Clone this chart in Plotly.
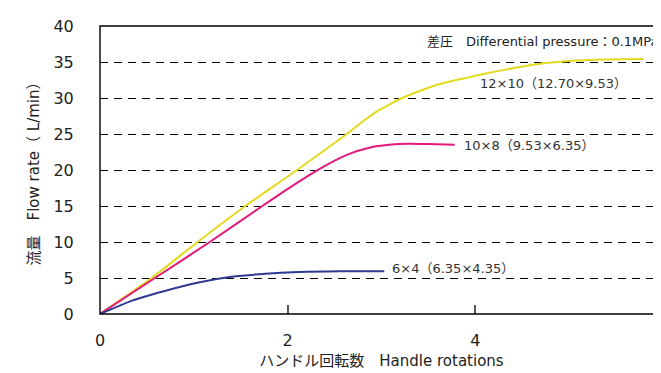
import plotly.graph_objects as go

# Handle rotations vs flow rate
x_12x10 = [0, 0.55, 1.04, 1.55, 2.10, 2.62, 2.90, 3.22, 3.61, 3.94, 4.15, 4.65, 5.0, 5.4, 5.79]
y_12x10 = [0, 5, 10, 15, 20, 24.9, 27.7, 30.0, 31.9, 32.9, 33.5, 34.7, 35.15, 35.35, 35.4]

x_10x8 = [0, 0.585, 1.17, 1.73, 2.05, 2.36, 2.65, 2.87, 3.08, 3.29, 3.5, 3.78]
y_10x8 = [0, 5, 10, 15, 17.8, 20.3, 22.2, 23.1, 23.5, 23.65, 23.6, 23.5]

x_6x4 = [0, 0.335, 0.69, 1.05, 1.40, 1.76, 2.12, 2.55, 3.03]
y_6x4 = [0, 1.83, 3.2, 4.37, 5.16, 5.6, 5.85, 5.95, 5.95]

series_names = ["12×10（12.70×9.53）", "10×8（9.53×6.35）", "6×4（6.35×4.35）"]
label_pos = [(4.03, 32.0), (3.86, 23.4), (3.09, 6.3)]
colors = ["#E2DA1E", "#E3197B", "#2F3A8F"]

x_ticks = [0, 2, 4, 6]
y_ticks = [0, 5, 10, 15, 20, 25, 30, 35, 40]

font_family = "DejaVu Sans, Noto Sans CJK JP, sans-serif"

fig = go.Figure()
for xs, ys, c, name in zip([x_12x10, x_10x8, x_6x4], [y_12x10, y_10x8, y_6x4], colors, series_names):
    fig.add_trace(go.Scatter(x=xs, y=ys, mode="lines", name=name,
                             line=dict(color=c, width=2, shape="spline", smoothing=0.6),
                             showlegend=False))

# invisible trace on the secondary x axis so it renders its inside ticks
fig.add_trace(go.Scatter(x=[x_ticks[0], x_ticks[-1]], y=[y_ticks[0], y_ticks[0]], xaxis="x2",
                         mode="lines", line=dict(width=0), hoverinfo="skip", showlegend=False))

for (lx, ly), name in zip(label_pos, series_names):
    fig.add_annotation(x=lx, y=ly, xref="x", yref="y", text=name, showarrow=False,
                       xanchor="left", yanchor="middle",
                       font=dict(family=font_family, size=13, color="#333333"))

fig.add_annotation(x=5.98, y=37.9, xref="x", yref="y",
                   text="差圧　Differential pressure：0.1MPa", showarrow=False,
                   xanchor="right", yanchor="middle",
                   font=dict(family=font_family, size=13, color="#222222"))

# plot frame
fig.add_shape(type="rect", xref="paper", yref="paper", x0=0, y0=0, x1=1, y1=1,
              line=dict(color="black", width=1.4), layer="above")

fig.update_layout(
    width=661, height=373,
    margin=dict(l=92, r=6, t=18, b=67),
    paper_bgcolor="white", plot_bgcolor="white",
    font=dict(family=font_family, color="#222222"),
    xaxis2=dict(overlaying="x", side="bottom", range=[0, 6], tickvals=x_ticks,
                showticklabels=False, ticks="inside", ticklen=9, tickcolor="#555555",
                tickwidth=1.5, showgrid=False, zeroline=False, showline=False,
                automargin=False),
)
fig.update_xaxes(
    selector=dict(anchor="y"),
)
fig.layout.xaxis.update(
    range=[0, 6], tickvals=x_ticks, ticktext=[str(v) for v in x_ticks],
    showgrid=False, zeroline=False, automargin=False,
    showline=False,
    ticks="outside", ticklen=12, tickcolor="rgba(0,0,0,0)",
    tickfont=dict(size=16, color="#222222"),
    title=dict(text="ハンドル回転数　Handle rotations", font=dict(size=15, color="#222222"), standoff=6),
)
fig.layout.yaxis.update(
    range=[0, 40], tickvals=y_ticks, ticktext=[str(v) for v in y_ticks],
    showgrid=True, gridcolor="black", gridwidth=1, griddash="8px,6px",
    zeroline=False, automargin=False,
    showline=False,
    ticks="outside", ticklen=22, tickcolor="rgba(0,0,0,0)",
    tickfont=dict(size=16, color="#222222"),
    title=dict(text="流量　Flow rate（ L/min）", font=dict(size=15, color="#222222"), standoff=10),
)

fig.write_html("out.html")
